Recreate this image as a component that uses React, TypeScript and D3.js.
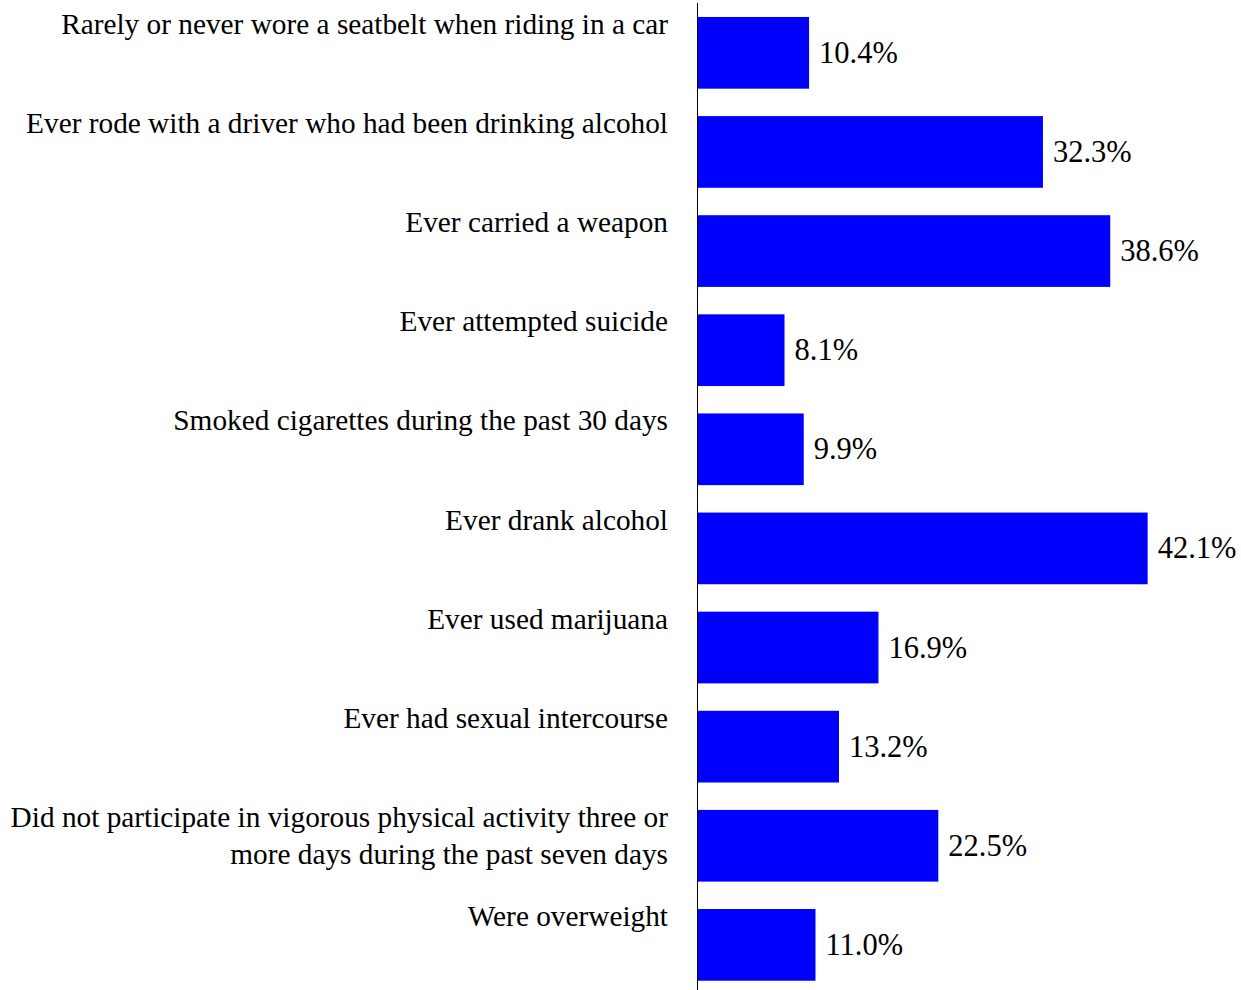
import React from "react";
import * as d3 from "d3";

const categories: string[][] = [
  ["Rarely or never wore a seatbelt when riding in a car"],
  ["Ever rode with a driver who had been drinking alcohol"],
  ["Ever carried a weapon"],
  ["Ever attempted suicide"],
  ["Smoked cigarettes during the past 30 days"],
  ["Ever drank alcohol"],
  ["Ever used marijuana"],
  ["Ever had sexual intercourse"],
  ["Did not participate in vigorous physical activity three or", "more days during the past seven days"],
  ["Were overweight"],
];
const values: number[] = [10.4, 32.3, 38.6, 8.1, 9.9, 42.1, 16.9, 13.2, 22.5, 11.0];

const W = 1241;
const H = 990;
const FONT = "'Liberation Serif', 'Times New Roman', serif";

export default function App() {
  const idx = categories.map((_, i) => i);
  const y = d3.scaleBand<number>().domain(idx).range([3, 994.7]).paddingInner(0.2766).paddingOuter(0.141);
  const x = d3.scaleLinear().domain([0, 45]).range([698, 698 + 45 * 10.68]);
  return (
    <svg width={W} height={H} style={{ position: "absolute", left: 0, top: 0, background: "#fff" }} fontFamily={FONT}>
      {idx.map((i) => {
        const y0 = y(i)!;
        const bw = y.bandwidth();
        return (
          <g key={i}>
            <rect x={x(0)} y={y0} width={x(values[i]) - x(0)} height={bw} fill="#0000ff" />
            <text x={x(values[i]) + 10} y={y0 + bw / 2} dy="0.33em" fontSize={30.5} fill="#000">
              {values[i].toFixed(1) + "%"}
            </text>
            {categories[i].map((line, j) => (
              <text key={j} x={668} y={y0 + 17 + j * 37} textAnchor="end" fontSize={29.3} fill="#000">
                {line}
              </text>
            ))}
          </g>
        );
      })}
      <line x1={697.5} x2={697.5} y1={3} y2={H} stroke="#000" strokeWidth={1} />
    </svg>
  );
}
